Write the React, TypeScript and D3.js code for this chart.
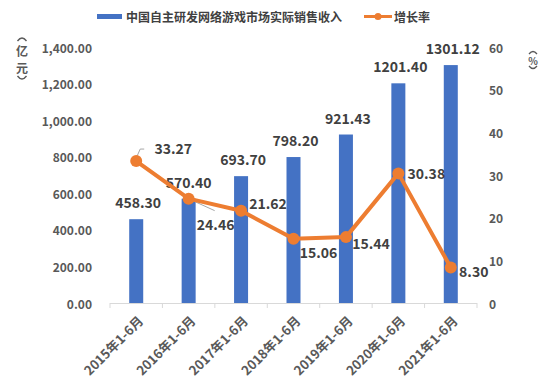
import React from 'react'
import * as d3 from 'd3'

const categories = ['2015年1-6月', '2016年1-6月', '2017年1-6月', '2018年1-6月', '2019年1-6月', '2020年1-6月', '2021年1-6月']
const revenue = [458.3, 570.4, 693.7, 798.2, 921.43, 1201.4, 1301.12]
const growth = [33.27, 24.46, 21.62, 15.06, 15.44, 30.38, 8.3]
const leftTicks = [0, 200, 400, 600, 800, 1000, 1200, 1400]
const rightTicks = [0, 10, 20, 30, 40, 50, 60]

// label offsets for the growth line, relative to the point
const growthLabelPos = [
  { dx: 37, dy: -13 },
  { dx: 27, dy: 25 },
  { dx: 27, dy: -8 },
  { dx: 25, dy: 13 },
  { dx: 25, dy: 6 },
  { dx: 28, dy: 0 },
  { dx: 23, dy: 3 },
]

const FONT = '"Noto Sans CJK SC", "Noto Sans", sans-serif'
const BLUE = '#4472C4'
const ORANGE = '#ED7D31'

const App = () => {
  const W = 544
  const H = 387
  const left = 110
  const right = 477
  const top = 47
  const bottom = 303

  const x = d3.scaleBand().domain(categories).range([left, right])
  const yL = d3.scaleLinear().domain([0, 1400]).range([bottom, top])
  const yR = d3.scaleLinear().domain([0, 60]).range([bottom, top])
  const barW = 14
  const cx = (c: string) => (x(c) as number) + x.bandwidth() / 2

  const line = d3.line<number>()
    .x((d, i) => cx(categories[i]))
    .y((d) => yR(d))

  const fmt = d3.format(',.2f')

  return (
    <svg width={W} height={H} style={{ position: 'absolute', left: 0, top: 0, fontFamily: FONT }}>
      <rect width={W} height={H} fill="#fff" />

      {/* legend */}
      <rect x={97} y={14} width={25} height={5} fill={BLUE} />
      <text x={126} y={21.5} fontSize={12} fontWeight="bold" fill="#404040">中国自主研发网络游戏市场实际销售收入</text>
      <line x1={364} x2={392} y1={16.5} y2={16.5} stroke={ORANGE} strokeWidth={3} />
      <circle cx={378} cy={16.5} r={3.5} fill={ORANGE} />
      <text x={394} y={21.5} fontSize={12} fontWeight="bold" fill="#404040">增长率</text>

      {/* unit labels, vertical with bracket arcs */}
      <g fill="#595959" fontSize={12} fontWeight="bold" textAnchor="middle" dominantBaseline="central">
        <text x={22} y={50}>亿</text>
        <text x={22} y={67}>元</text>
        <text x={533} y={60} fontSize={10}>%</text>
      </g>
      <g fill="none" stroke="#595959" strokeWidth={1.3}>
        <path d="M17.5,41 Q22,35 26.5,41" />
        <path d="M17.5,76 Q22,82 26.5,76" />
        <path d="M529,54 Q533,49 537,54" />
        <path d="M529,66 Q533,71 537,66" />
      </g>

      {/* left axis */}
      <g fill="#595959" fontSize={12} fontWeight="bold">
        {leftTicks.map((t) => (
          <text key={t} x={92} y={yL(t)} textAnchor="end" dominantBaseline="central">{fmt(t)}</text>
        ))}
      </g>

      {/* right axis */}
      <g fill="#595959" fontSize={12} fontWeight="bold">
        {rightTicks.map((t) => (
          <text key={t} x={489} y={yR(t)} dominantBaseline="central">{t}</text>
        ))}
      </g>

      {/* bars */}
      {categories.map((c, i) => (
        <rect key={c} x={cx(c) - barW / 2} y={yL(revenue[i])} width={barW} height={bottom - yL(revenue[i])} fill={BLUE} />
      ))}

      {/* x axis */}
      <line x1={left} x2={right} y1={bottom + 0.5} y2={bottom + 0.5} stroke="#D9D9D9" />
      {[...categories.map((c) => x(c) as number), right].map((t, i) => (
        <line key={i} x1={t} x2={t} y1={bottom} y2={bottom + 5} stroke="#D9D9D9" />
      ))}
      <g fill="#595959" fontSize={13} fontWeight="bold">
        {categories.map((c) => (
          <text key={c} transform={`translate(${cx(c) + 4},${bottom + 15}) rotate(-45)`} textAnchor="end" dominantBaseline="central">{c}</text>
        ))}
      </g>

      {/* bar labels */}
      <g fill="#404040" fontSize={14} fontWeight="bold">
        {categories.map((c, i) => (
          <text key={c} x={cx(c) + (i === 1 ? 0 : 2)} y={yL(revenue[i]) - 17} textAnchor="middle" dominantBaseline="central">
            {i >= 5 ? revenue[i].toFixed(2) : fmt(revenue[i])}
          </text>
        ))}
      </g>

      {/* leader lines */}
      <polyline points={`${cx(categories[0])},${yR(growth[0]) - 3} ${cx(categories[0]) + 4},${yR(growth[0]) - 12} ${cx(categories[0]) + 8},${yR(growth[0]) - 12}`} fill="none" stroke="#A6A6A6" />
      <line x1={cx(categories[1]) + 4} y1={yR(growth[1]) + 2} x2={cx(categories[1]) + 26} y2={yR(growth[1]) + 12} stroke="#A6A6A6" />

      {/* growth line */}
      <path d={line(growth) || ''} fill="none" stroke={ORANGE} strokeWidth={4} strokeLinejoin="round" />
      {growth.map((g, i) => (
        <circle key={i} cx={cx(categories[i])} cy={yR(g)} r={6} fill={ORANGE} />
      ))}
      <g fill="#404040" fontSize={14} fontWeight="bold">
        {growth.map((g, i) => (
          <text key={i} x={cx(categories[i]) + growthLabelPos[i].dx} y={yR(g) + growthLabelPos[i].dy} textAnchor="middle" dominantBaseline="central">
            {g.toFixed(2)}
          </text>
        ))}
      </g>
    </svg>
  )
}

export default App
